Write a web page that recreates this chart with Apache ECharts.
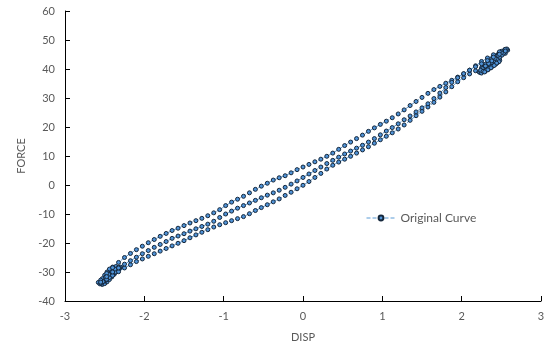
<!DOCTYPE html>
<html>
<head>
<meta charset="utf-8">
<script src="https://cdn.jsdelivr.net/npm/echarts@6/dist/echarts.min.js"></script>
<style>
html,body{margin:0;padding:0;background:#fff;}
#chart{width:551px;height:362px;}
</style>
</head>
<body>
<div id="chart"></div>
<script>
// ---------- DATA ----------
var seriesName = 'Original Curve';
var xTitle = 'DISP';
var yTitle = 'FORCE';

// displacement positions of the read-off points on each strand (typed)
var dispGrid = [-2.550,-2.475,-2.400,-2.325,-2.250,-2.175,-2.100,-2.025,-1.950,-1.875,-1.800,-1.725,-1.650,-1.575,-1.500,-1.425,-1.350,-1.275,-1.200,-1.125,-1.050,-0.975,-0.900,-0.825,-0.750,-0.675,-0.600,-0.525,-0.450,-0.375,-0.300,-0.225,-0.150,-0.075,0.000,0.075,0.150,0.225,0.300,0.375,0.450,0.525,0.600,0.675,0.750,0.825,0.900,0.975,1.050,1.125,1.200,1.275,1.350,1.425,1.500,1.575,1.650,1.725,1.800,1.875,1.950,2.025,2.100,2.175,2.250,2.325,2.400,2.475,2.550];

// first loading branch (lowest strand)
var loading1Force = [-33.8,-32.5,-31.2,-29.9,-28.6,-27.5,-26.4,-25.5,-24.6,-23.7,-22.8,-21.9,-21.0,-20.1,-19.2,-18.2,-17.2,-16.3,-15.4,-14.5,-13.7,-13.0,-12.3,-11.6,-10.9,-9.9,-8.8,-7.8,-6.8,-5.8,-4.8,-3.6,-2.5,-1.3,-0.1,1.2,2.6,4.0,5.5,6.8,7.9,8.9,9.9,11.0,12.1,13.2,14.4,15.6,16.8,18.0,19.3,20.7,22.3,23.9,25.4,26.9,28.5,30.3,32.1,33.9,35.6,37.0,38.3,39.4,40.4,41.5,42.7,44.0,45.4];

// unloading branch (upper strand)
var unloadingForce = [-32.8,-30.5,-28.5,-26.7,-25.0,-23.6,-22.3,-21.1,-19.9,-18.8,-17.7,-16.7,-15.7,-14.9,-14.0,-13.1,-12.3,-11.5,-10.6,-9.6,-8.5,-7.1,-5.9,-4.9,-3.9,-2.7,-1.5,-0.4,0.6,1.7,2.5,3.2,4.2,5.3,6.2,7.1,8.0,8.9,9.9,11.0,12.3,13.6,14.8,16.0,17.2,18.5,19.7,20.9,22.0,23.2,24.5,25.9,27.4,28.8,30.2,31.6,32.9,34.0,35.1,36.1,37.2,38.3,39.6,41.1,42.6,43.8,44.9,45.9,46.8];

// second loading branch (middle strand)
var loading2Force = [-33.5,-31.6,-30.0,-28.6,-27.3,-26.1,-24.9,-23.7,-22.6,-21.5,-20.5,-19.5,-18.4,-17.6,-16.8,-15.9,-15.1,-14.3,-13.5,-12.5,-11.2,-10.0,-9.0,-8.0,-7.1,-6.2,-5.3,-4.4,-3.5,-2.7,-1.8,-0.8,0.3,1.4,2.6,3.8,5.0,6.2,7.4,8.5,9.6,10.7,11.7,12.7,13.7,14.8,16.0,17.3,18.6,19.8,21.1,22.5,23.8,25.2,26.6,28.0,29.8,31.7,33.6,35.4,37.0,38.4,39.6,40.8,41.8,42.9,44.1,45.1,46.2];

// dense points around the positive peak
var posPeakDisp  = [2.22,2.25,2.28,2.31,2.34,2.37,2.40,2.43,2.46,2.49,2.52,2.55,2.58,2.57,2.54,2.50,2.47,2.44,2.41,2.38,2.35,2.32,2.29,2.26,2.23,2.25,2.29,2.33,2.37,2.41,2.45,2.48,2.44,2.40,2.36,2.32,2.28,2.30,2.34,2.38,2.42,2.46,2.50,2.47,2.43,2.39,2.35,2.31,2.27,2.30,2.33,2.36,2.39,2.42,2.45,2.48,2.51,2.53,2.50,2.46,2.42,2.38,2.34,2.30,2.26,2.24,2.27,2.31,2.35,2.39,2.43,2.47,2.44,2.41,2.37,2.33,2.29];
var posPeakForce = [39.0,39.6,40.2,40.9,41.6,42.3,43.0,43.6,44.2,44.9,45.6,46.1,46.5,46.9,46.6,46.1,45.4,44.6,43.8,42.9,42.0,41.1,40.2,39.4,38.8,38.6,39.1,39.8,40.6,41.4,42.2,43.0,43.1,42.4,41.7,41.0,40.4,41.6,42.6,43.5,44.3,45.0,45.2,44.0,42.8,41.9,40.9,40.0,39.3,39.9,40.5,41.1,41.8,42.5,43.3,44.1,44.8,45.5,45.6,44.7,43.7,42.8,41.9,41.0,40.1,39.6,39.2,39.6,40.3,41.0,41.7,42.5,42.0,41.2,40.4,39.7,39.0];

// dense points around the negative peak
var negPeakDisp  = [-2.58,-2.56,-2.53,-2.50,-2.47,-2.44,-2.41,-2.38,-2.35,-2.32,-2.30,-2.33,-2.36,-2.39,-2.42,-2.45,-2.48,-2.51,-2.54,-2.51,-2.48,-2.45,-2.42,-2.39,-2.36,-2.40,-2.44,-2.47,-2.50,-2.53,-2.49,-2.46,-2.43,-2.40,-2.37,-2.34,-2.31,-2.34,-2.38,-2.42,-2.46,-2.50,-2.54,-2.52,-2.48,-2.44,-2.40,-2.36,-2.33,-2.37,-2.41,-2.45,-2.49];
var negPeakForce = [-33.6,-34.1,-34.3,-34.0,-33.4,-32.6,-31.7,-30.8,-29.9,-29.0,-28.3,-28.5,-29.1,-29.8,-30.6,-31.4,-32.3,-33.1,-33.7,-32.4,-31.4,-30.4,-29.5,-28.7,-28.1,-28.3,-29.0,-30.0,-31.1,-32.3,-32.9,-32.0,-31.2,-30.3,-29.5,-28.8,-28.6,-29.6,-30.4,-31.3,-32.2,-33.0,-33.9,-33.3,-32.7,-31.9,-31.0,-30.0,-29.3,-29.0,-29.9,-30.8,-31.8];

var xTicks = {min: -3, max: 3, interval: 1};
var yTicks = {min: -40, max: 60, interval: 10};

// ---------- BUILD ----------
function pairs(xs, ys){ var o=[]; for (var i=0;i<xs.length;i++) o.push([xs[i], ys[i]]); return o; }
var seq = [];
seq = seq.concat(pairs(negPeakDisp, negPeakForce));
seq = seq.concat(pairs(dispGrid, loading1Force));
seq = seq.concat(pairs(posPeakDisp, posPeakForce));
seq = seq.concat(pairs(dispGrid, unloadingForce).reverse());
seq = seq.concat(pairs(dispGrid, loading2Force));

var font = 'Lato, "Open Sans", sans-serif';
var chart = echarts.init(document.getElementById('chart'), null, {renderer:'canvas'});
chart.setOption({
  animation: false,
  backgroundColor: '#ffffff',
  grid: {left: 65, right: 10, top: 11, bottom: 61, containLabel: false},
  legend: {
    data: [seriesName],
    left: 366, top: 212, padding: 0,
    itemWidth: 29, itemHeight: 6,
    lineStyle: {width: 1},
    textStyle: {color: '#595959', fontSize: 12, fontFamily: font}
  },
  xAxis: {
    type: 'value', min: xTicks.min, max: xTicks.max, interval: xTicks.interval,
    name: xTitle, nameLocation: 'middle', nameGap: 31,
    nameTextStyle: {color: '#595959', fontSize: 11, fontFamily: font},
    axisLine: {onZero: false, lineStyle: {color: '#000000', width: 1}},
    axisTick: {inside: true, length: 5, lineStyle: {color: '#000000'}},
    axisLabel: {color: '#595959', fontSize: 11, fontFamily: font, margin: 10},
    splitLine: {show: false}
  },
  yAxis: {
    type: 'value', min: yTicks.min, max: yTicks.max, interval: yTicks.interval,
    name: yTitle, nameLocation: 'middle', nameGap: 36,
    nameTextStyle: {color: '#595959', fontSize: 11, fontFamily: font},
    axisLine: {onZero: false, lineStyle: {color: '#000000', width: 1}},
    axisTick: {inside: true, length: 5, lineStyle: {color: '#000000'}},
    axisLabel: {color: '#595959', fontSize: 11, fontFamily: font, margin: 10},
    splitLine: {show: false}
  },
  series: [{
    name: seriesName,
    type: 'line',
    data: seq,
    symbol: 'circle',
    symbolSize: 4,
    showAllSymbol: true,
    lineStyle: {type: 'dashed', width: 1, color: '#5b9bd5'},
    itemStyle: {color: '#4f93d8', borderColor: '#15273b', borderWidth: 1}
  }]
});
</script>
</body>
</html>
